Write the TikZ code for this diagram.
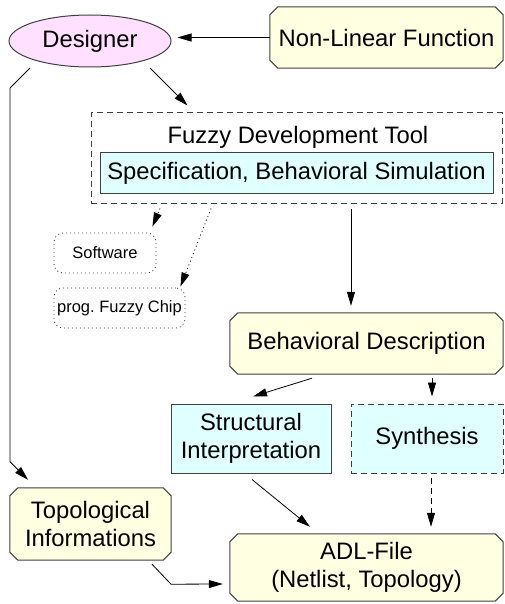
\documentclass[tikz,border=0pt]{standalone}
\usepackage{fontspec}
\setmainfont{Liberation Sans}
\usetikzlibrary{shapes.geometric,arrows.meta,calc,backgrounds}
\definecolor{boxyellow}{HTML}{FFFFE2}
\definecolor{boxcyan}{HTML}{E0FFFF}
\definecolor{boxpink}{HTML}{FFE0FF}
\definecolor{edge}{HTML}{404040}
\tikzset{
  bigtext/.style={font=\fontsize{23.8}{28}\selectfont},
  smalltext/.style={font=\fontsize{16.5}{20}\selectfont},
  blob/.style={draw=edge, line width=1pt, inner sep=0pt, align=center, bigtext},
  chambox/.style={rectangle, inner sep=0pt, align=center, bigtext},
  plainbox/.style={blob, rectangle, fill=boxcyan},
  dashbox/.style={blob, rectangle, dash pattern=on 6pt off 4pt},
  sparsedots/.style={dash pattern=on 1pt off 3pt},
  dotbox/.style={draw=edge, line width=0.8pt, sparsedots, rectangle, rounded corners=9pt,
    inner sep=0pt, smalltext},
  chamline/.style={draw=edge, line width=1pt, fill=boxyellow},
  link/.style={line width=0.8pt, -{Triangle[length=14pt,width=8pt]}},
}
% outline with cut corners behind a named node
\newcommand\chamferframe[1]{%
  \path[chamline]
    ($(#1.north west)+(8,0)$) -- ($(#1.north east)+(-8,0)$)
    -- ($(#1.north east)+(0,8)$) -- ($(#1.south east)+(0,-8)$)
    -- ($(#1.south east)+(-8,0)$) -- ($(#1.south west)+(8,0)$)
    -- ($(#1.south west)+(0,-8)$) -- ($(#1.north west)+(0,8)$) -- cycle;}
\begin{document}
\begin{tikzpicture}[x=1pt,y=-1pt]
\useasboundingbox (0,0) rectangle (505,604);

% nodes
\node[blob, ellipse, fill=boxpink, minimum width=162pt, minimum height=52pt] (designer) at (90,41) {Designer};
\node[chambox, minimum width=233pt, minimum height=61pt] (nlf) at (386.5,37.5) {Non-Linear Function};

\node[dashbox, minimum width=411pt, minimum height=90pt] (fuzzy) at (296.5,158) {};
\node[bigtext, inner sep=0pt] (fuzzytitle) at (298,137) {Fuzzy Development Tool};
\node[plainbox, minimum width=393pt, minimum height=40pt] (spec) at (296.5,173) {Specification, Behavioral Simulation};

\node[dotbox, minimum width=102pt, minimum height=40pt] (software) at (105,253) {Software};
\node[dotbox, minimum width=131pt, minimum height=40pt] (chip) at (119.5,308) {prog.\ Fuzzy Chip};

\node[chambox, minimum width=273pt, minimum height=61pt] (behav) at (366.5,343.5) {Behavioral Description};
\node[plainbox, minimum width=160pt, minimum height=69pt] (struct) at (251,438.5) {Structural\\Interpretation};
\node[dashbox, fill=boxcyan, minimum width=152pt, minimum height=69pt] (synth) at (427,438.5) {Synthesis};

\node[chambox, minimum width=161pt, minimum height=72pt] (topo) at (90.5,524) {Topological\\Informations};
\node[chambox, minimum width=273pt, minimum height=67pt] (adl) at (366.5,567.5) {ADL-File\\(Netlist, Topology)};

\begin{scope}[on background layer]
  \chamferframe{nlf}
  \chamferframe{behav}
  \chamferframe{topo}
  \chamferframe{adl}
\end{scope}

% connectors
\draw[link, shorten >=6pt] (nlf.west) -- (nlf.west -| designer.east);
\draw[link] ($(designer.center)+(60,27)$) -- ($(fuzzy.north west)+(97,-7)$);
\draw[link] ($(designer.center)+(-60,27)$) -- ++(-20,20)
  -- ($(topo.north)+(-80.5,-26)$) -- ($(topo.north)+(-62.5,-8)$);

\draw[link, sparsedots] ($(fuzzy.south)+(-136.5,5)$) -- ($(software.north east)+(-4,-6)$);
\draw[link, sparsedots] ($(fuzzy.south)+(-85.5,5)$) -- ($(chip.north east)+(-5,-1)$);
\draw[link] ($(fuzzy.south)+(54.5,5)$) -- ($(behav.north)+(-15.5,-7)$);

\draw[link] ($(behav.south)+(-54.5,4)$) -- ($(struct.north)+(2,-7)$);
\draw[link] ($(behav.south)+(65.5,4)$) -- ($(synth.north)+(5,-7)$);

\draw[link, dash pattern=on 6pt off 4pt] ($(synth.south)+(4,4)$) -- ($(adl.north)+(64.5,-7)$);
\draw[link] ($(struct.south)+(1,6)$) -- ($(adl.north)+(-56.5,-7)$);
\draw[link] ($(topo.south)+(61.5,4)$) -- ++(19,20) -- ($(adl.west)+(-7,16.5)$);
\end{tikzpicture}
\end{document}
